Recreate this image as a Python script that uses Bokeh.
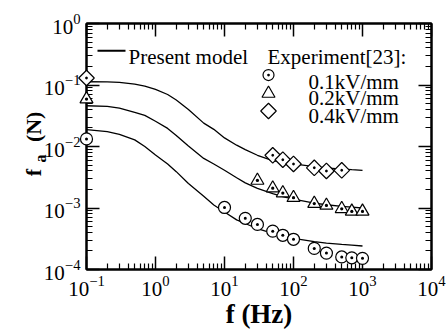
import math

from bokeh.plotting import figure
from bokeh.core.properties import value
from bokeh.models import FixedTicker, LogAxis, Range1d, CustomJSTickFormatter
from bokeh.embed import file_html
from bokeh.resources import INLINE

# ---- model curves (force f_a in N versus frequency in Hz) ----
model_freq = [0.1, 0.2, 0.3, 0.5, 0.7, 1, 1.5, 2, 3, 5, 7, 10, 15, 20, 30,
              50, 70, 100, 200, 300, 500, 700, 1000]
model_04 = [0.113, 0.112, 0.110, 0.103, 0.096, 0.085, 0.070, 0.057, 0.040,
            0.024, 0.019, 0.0138, 0.0105, 0.0089, 0.0072, 0.0059, 0.0055,
            0.0052, 0.0047, 0.0045, 0.0043, 0.0042, 0.0041]
model_02 = [0.046, 0.045, 0.042, 0.036, 0.032, 0.0257, 0.0197, 0.0151,
            0.0102, 0.0064, 0.0052, 0.0041, 0.0031, 0.00256, 0.00208,
            0.00172, 0.00153, 0.0014, 0.0012, 0.00113, 0.00106, 0.00103,
            0.00100]
model_01 = [0.0188, 0.0174, 0.0158, 0.0128, 0.0100, 0.0073, 0.0052, 0.0039,
            0.0025, 0.00155, 0.00112, 0.00086, 0.00064, 0.00056, 0.00046,
            0.000385, 0.00035, 0.00032, 0.000285, 0.000268, 0.000256,
            0.000249, 0.000241]

# ---- experiment [23] ----
exp_01_f = [0.1, 10, 20, 30, 50, 70, 100, 200, 300, 500, 700, 1000]
exp_01_v = [0.0133, 0.00102, 0.00068, 0.00054, 0.00042, 0.00036, 0.00031,
            0.00022, 0.000185, 0.00016, 0.000155, 0.000152]
exp_02_f = [0.1, 30, 50, 70, 100, 200, 300, 500, 700, 1000]
exp_02_v = [0.059, 0.0028, 0.0021, 0.00175, 0.00147, 0.00118, 0.0011,
            0.00097, 0.00088, 0.00088]
exp_04_f = [0.1, 50, 70, 100, 200, 300, 500]
exp_04_v = [0.13, 0.0072, 0.0061, 0.0052, 0.0045, 0.0040, 0.0041]

# ---- axes ticks ----
x_major = [0.1, 1, 10, 100, 1000, 10000]
y_major = [1e-4, 1e-3, 1e-2, 1e-1, 1]
series_labels = ["0.1kV/mm", "0.2kV/mm", "0.4kV/mm"]

FONT = "Liberation Serif"

# frame geometry (pixels) used to place annotations
L, R, T, B = 86, 431, 23, 276


def fx(px):
    return 10 ** (-1 + 5 * (px - L) / (R - L))


def fy(py):
    return 10 ** (-4 * (py - T) / (B - T))


def minor(major):
    out = []
    for t in major[:-1]:
        out += [m * t for m in range(2, 10)]
    return out


p = figure(width=446, height=331, x_axis_type="log", y_axis_type="log",
           x_range=Range1d(0.1, 1e4), y_range=Range1d(1e-4, 1),
           output_backend="svg", toolbar_location=None,
           min_border_left=L, min_border_right=446 - R,
           min_border_top=T, min_border_bottom=331 - B)
p.background_fill_color = "white"
p.border_fill_color = "white"
p.outline_line_color = "black"
p.outline_line_width = 2
p.xgrid.visible = False
p.ygrid.visible = False

bottom_axis = p.below[0]
left_axis = p.left[0]
top_axis = LogAxis()
right_axis = LogAxis()
p.add_layout(top_axis, "above")
p.add_layout(right_axis, "right")

blank = CustomJSTickFormatter(code="return ''")
top_axis.formatter = blank
right_axis.formatter = blank

for ax in [bottom_axis, top_axis]:
    ax.ticker = FixedTicker(ticks=x_major, minor_ticks=minor(x_major))
for ax in [left_axis, right_axis]:
    ax.ticker = FixedTicker(ticks=y_major, minor_ticks=minor(y_major))

for ax in [bottom_axis, left_axis, top_axis, right_axis]:
    ax.axis_line_width = 2
    ax.axis_line_color = "black"
    ax.major_tick_in = 13
    ax.major_tick_out = 0
    ax.minor_tick_in = 6
    ax.minor_tick_out = 0
    ax.major_tick_line_width = 1.5
    ax.minor_tick_line_width = 1.2
    ax.major_tick_line_color = "black"
    ax.minor_tick_line_color = "black"
    ax.major_label_text_font = FONT
    ax.major_label_text_font_size = "21px"
    ax.major_label_text_color = "black"
    ax.major_label_standoff = 6

for ax in [top_axis, right_axis]:
    ax.major_label_text_font_size = "1px"
    ax.major_label_standoff = 0

bottom_axis.axis_label = "f (Hz)"
bottom_axis.axis_label_text_font = FONT
bottom_axis.axis_label_text_font_size = "27px"
bottom_axis.axis_label_text_font_style = "bold"
bottom_axis.axis_label_text_color = "black"
bottom_axis.axis_label_standoff = 0

# model curves
for vals in [model_01, model_02, model_04]:
    p.line(model_freq, vals, line_color="black", line_width=1.3)

# experimental points
mk = dict(line_color="black", fill_color="white", line_width=1.2, level="overlay")
p.scatter(exp_01_f, exp_01_v, marker="circle_dot", size=12, **mk)
p.scatter(exp_02_f, exp_02_v, marker="triangle_dot", size=13, **mk)
p.scatter(exp_04_f, exp_04_v, marker="square_dot", size=11, angle=math.pi / 4, **mk)


def label(px, py, text, size, bold=False, angle=0.0):
    p.text([fx(px)], [fy(py)], text=[text], text_font=value(FONT),
           text_font_size=f"{size}px",
           text_font_style="bold" if bold else "normal",
           text_color="black", angle=angle,
           text_align="left", text_baseline="alphabetic", level="overlay")


# legend
p.line([fx(97), fx(125)], [fy(51), fy(51)], line_color="black", line_width=2)
label(128, 57, "Present model", 21)
label(267, 57, "Experiment[23]:", 21)
key = dict(line_color="black", fill_color="white", line_width=1.2)
p.scatter([fx(268)], [fy(76)], marker="circle_dot", size=11, **key)
p.scatter([fx(268)], [fy(95)], marker="triangle", size=13, **key)
p.scatter([fx(268)], [fy(113)], marker="square", size=11, angle=math.pi / 4, **key)
label(308, 83, series_labels[0], 21)
label(308, 100, series_labels[1], 21)
label(308, 118, series_labels[2], 21)

# rotated y label: f_a (N)
label(33, 180, "f", 22, bold=True, angle=math.pi / 2)
label(40, 166, "a", 16, bold=True, angle=math.pi / 2)
label(33, 145, "(N)", 22, bold=True, angle=math.pi / 2)

open("out.html", "w").write(file_html(p, INLINE))
